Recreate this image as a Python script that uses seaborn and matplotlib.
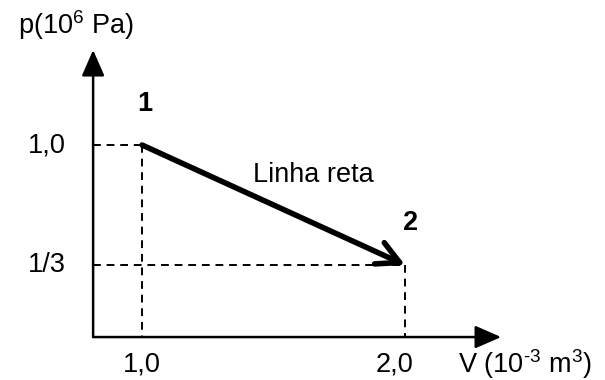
import seaborn as sns
import pandas as pd
import matplotlib.pyplot as plt

# estados do processo
volumes = [1.0, 2.0]          # V (10^-3 m^3)
pressures = [1.0, 1 / 3]      # p (10^6 Pa)
state_names = ['1', '2']
x_tick_labels = ['1,0', '2,0']
y_tick_labels = ['1,0', '1/3']

# origem visual dos eixos e pontas das setas
V0, P0 = 0.814, -0.067
V_TIP, P_TIP = 2.365, 1.528


def main():
    sns.set_theme(style='white')
    plt.rcParams['font.family'] = ['Liberation Sans', 'DejaVu Sans']
    plt.rcParams['text.color'] = 'black'
    plt.rcParams['mathtext.fontset'] = 'custom'
    plt.rcParams['mathtext.rm'] = 'Liberation Sans'
    plt.rcParams['mathtext.it'] = 'Liberation Sans'
    plt.rcParams['mathtext.bf'] = 'Liberation Sans:bold'

    fig = plt.figure(figsize=(6.05, 3.8), dpi=100)
    ax = fig.add_axes([0, 0, 1, 1])
    ax.set_xlim(0.460, 2.760)
    ax.set_ylim(-0.3056, 1.8056)
    ax.axis('off')

    df = pd.DataFrame({'V': volumes, 'p': pressures, 'state': state_names})

    # linhas tracejadas de referência
    for _, row in df.iterrows():
        guide_h = pd.DataFrame({'V': [V0, row['V']], 'p': [row['p'], row['p']]})
        guide_v = pd.DataFrame({'V': [row['V'], row['V']], 'p': [row['p'], P0]})
        for g in (guide_h, guide_v):
            sns.lineplot(data=g, x='V', y='p', ax=ax, color='black', lw=1.4,
                         linestyle=(0, (4, 3)), sort=False, estimator=None)

    # eixos com setas
    ax.annotate('', xy=(V_TIP, P0), xytext=(V0, P0),
                arrowprops=dict(arrowstyle='-|>,head_length=0.8,head_width=0.35',
                                lw=1.8, color='black', mutation_scale=20,
                                shrinkA=0, shrinkB=0))
    ax.annotate('', xy=(V0, P_TIP), xytext=(V0, P0),
                arrowprops=dict(arrowstyle='-|>,head_length=0.8,head_width=0.35',
                                lw=1.8, color='black', mutation_scale=20,
                                shrinkA=0, shrinkB=0))

    # processo em linha reta 1 -> 2
    ax.annotate('', xy=(volumes[1], pressures[1]), xytext=(volumes[0], pressures[0]),
                arrowprops=dict(arrowstyle='->,head_length=0.8,head_width=0.42',
                                lw=4.0, color='black', mutation_scale=20,
                                shrinkA=0, shrinkB=0))

    fs = 19.5
    ax.text(volumes[0] + 0.01, pressures[0] + 0.23, state_names[0], fontsize=fs,
            fontweight='bold', ha='center', va='center')
    ax.text(volumes[1] + 0.02, pressures[1] + 0.233, state_names[1], fontsize=fs,
            fontweight='bold', ha='center', va='center')
    ax.text(1.65, 0.833, 'Linha reta', fontsize=fs, ha='center', va='center')

    for p, lab in zip(pressures, y_tick_labels):
        ax.text(0.711, p, lab, fontsize=fs, ha='right', va='center')
    for v, lab in zip(volumes, x_tick_labels):
        ax.text(v - 0.04 * (v - 1), -0.217, lab, fontsize=fs, ha='center', va='center')

    ax.text(0.749, 1.667, r'p(10$^{\mathrm{6}}$ Pa)', fontsize=fs, ha='center', va='center')
    ax.text(2.20, -0.217, r'V (10$^{\text{-3}}$ m$^{\mathrm{3}}$)', fontsize=fs,
            ha='left', va='center')

    plt.savefig('out.png', dpi=100)


if __name__ == '__main__':
    main()
